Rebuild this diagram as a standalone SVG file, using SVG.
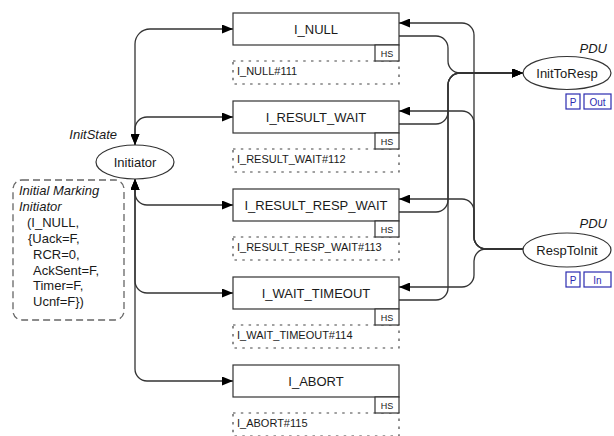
<svg xmlns="http://www.w3.org/2000/svg" width="614" height="436" viewBox="0 0 614 436">
  <defs>
    <marker id="arrow" viewBox="0 0 11 9" refX="11" refY="4.5" markerWidth="11" markerHeight="9" orient="auto-start-reverse" markerUnits="userSpaceOnUse">
      <path d="M0,0 L11,4.5 L0,9 z" fill="#000"/>
    </marker>
  </defs>
  <style>
    text { font-family: "Liberation Sans", Arial, sans-serif; fill: #1a1a1a; }
    .trans rect.body { fill: #fff; stroke: #333; stroke-width: 1.2; }
    .trans rect.hs { fill: #fff; stroke: #333; stroke-width: 1.2; }
    .trans .name { font-size: 13px; text-anchor: middle; }
    .trans .hst { font-size: 9px; text-anchor: middle; }
    .trans .sub { fill: none; stroke: #444; stroke-width: 1.2; stroke-dasharray: 2.5 5.3; }
    .trans .subt { font-size: 11px; }
    .place ellipse { fill: #fff; stroke: #333; stroke-width: 1.2; }
    .place .name { font-size: 13px; text-anchor: middle; }
    .italic { font-style: italic; font-size: 13px; }
    .port rect { fill: #fff; stroke: #2b2bb0; stroke-width: 1.2; }
    .port text { fill: #2b2bb0; font-size: 10px; text-anchor: middle; }
    .arc { fill: none; stroke: #333; stroke-width: 1.3; }
    .marking rect { fill: none; stroke: #666; stroke-width: 1.3; stroke-dasharray: 7 4; }
  </style>

  <!-- connectors -->
  <g id="arcs">
    <!-- Initiator <-> transitions -->
    <path class="arc" marker-start="url(#arrow)" marker-end="url(#arrow)" d="M135,145 L135,44 A15,15 0 0 1 150,29 L233,29"/>
    <path class="arc" marker-start="url(#arrow)" marker-end="url(#arrow)" d="M135,145 L135,129 A12,12 0 0 1 147,117 L233,117"/>
    <path class="arc" marker-start="url(#arrow)" marker-end="url(#arrow)" d="M135,179 L135,193 A12,12 0 0 0 147,205 L233,205"/>
    <path class="arc" marker-start="url(#arrow)" marker-end="url(#arrow)" d="M135,179 L135,281 A12,12 0 0 0 147,293 L233,293"/>
    <path class="arc" marker-start="url(#arrow)" marker-end="url(#arrow)" d="M135,179 L135,369 A12,12 0 0 0 147,381 L233,381"/>
    <!-- RespToInit -> transitions -->
    <path class="arc" marker-end="url(#arrow)" d="M523,249 L486,249 A12,12 0 0 1 474,237 L474,35 A12,12 0 0 0 462,23 L399,23"/>
    <path class="arc" marker-end="url(#arrow)" d="M523,249 L486,249 A12,12 0 0 1 474,237 L474,123 A12,12 0 0 0 462,111 L399,111"/>
    <path class="arc" marker-end="url(#arrow)" d="M523,249 L486,249 A12,12 0 0 1 474,237 L474,211 A12,12 0 0 0 462,199 L399,199"/>
    <path class="arc" marker-end="url(#arrow)" d="M523,249 L486,249 A12,12 0 0 0 474,261 L474,275 A12,12 0 0 1 462,287 L399,287"/>
    <!-- transitions -> InitToResp -->
    <path class="arc" marker-end="url(#arrow)" d="M399,36 L436,36 A12,12 0 0 1 448,48 L448,61 A12,12 0 0 0 460,73 L523,73"/>
    <path class="arc" marker-end="url(#arrow)" d="M399,124 L436,124 A12,12 0 0 0 448,112 L448,85 A12,12 0 0 1 460,73 L523,73"/>
    <path class="arc" marker-end="url(#arrow)" d="M399,212 L436,212 A12,12 0 0 0 448,200 L448,85 A12,12 0 0 1 460,73 L523,73"/>
    <path class="arc" marker-end="url(#arrow)" d="M399,300 L436,300 A12,12 0 0 0 448,288 L448,85 A12,12 0 0 1 460,73 L523,73"/>
  </g>

  <!-- places -->
  <g id="initiator" class="place">
    <ellipse cx="135" cy="162" rx="39" ry="17"/>
    <text class="name" x="135" y="167">Initiator</text>
    <text class="italic" x="117" y="139" text-anchor="end">InitState</text>
  </g>

  <g id="init-marking" class="marking">
    <rect x="13" y="180" width="111" height="140" rx="9" ry="9"/>
    <text class="italic" x="19" y="195">Initial Marking</text>
    <text class="italic" x="19" y="211">Initiator</text>
    <text font-size="13" x="27" y="227">(I_NULL,</text>
    <text font-size="13" x="28" y="243">{Uack=F,</text>
    <text font-size="13" x="33" y="259">RCR=0,</text>
    <text font-size="13" x="33" y="275">AckSent=F,</text>
    <text font-size="13" x="33" y="290">Timer=F,</text>
    <text font-size="13" x="33" y="306">Ucnf=F})</text>
  </g>

  <g id="inittoresp" class="place">
    <ellipse cx="567" cy="73" rx="44" ry="16.5"/>
    <text class="name" x="567" y="78">InitToResp</text>
    <text class="italic" x="607" y="53" text-anchor="end">PDU</text>
    <g class="port">
      <rect x="566" y="94" width="14" height="15"/>
      <text x="573" y="105.5">P</text>
      <rect x="584" y="94" width="27" height="15"/>
      <text x="597.5" y="105.5">Out</text>
    </g>
  </g>

  <g id="resptoinit" class="place">
    <ellipse cx="567" cy="250" rx="44" ry="17"/>
    <text class="name" x="567" y="255">RespToInit</text>
    <text class="italic" x="607" y="228" text-anchor="end">PDU</text>
    <g class="port">
      <rect x="566" y="272" width="14" height="15"/>
      <text x="573" y="283.5">P</text>
      <rect x="584" y="272" width="27" height="15"/>
      <text x="597.5" y="283.5">In</text>
    </g>
  </g>

  <!-- transitions -->
  <g id="t-null" class="trans">
    <path class="sub" d="M233,61 H399 V84 H233 Z"/>
    <rect class="body" x="233" y="13" width="166" height="32"/>
    <rect class="hs" x="375" y="45" width="24" height="16"/>
    <text class="name" x="316" y="34">I_NULL</text>
    <text class="hst" x="387" y="56.5">HS</text>
    <text class="subt" x="237" y="75">I_NULL#111</text>
  </g>

  <g id="t-result-wait" class="trans">
    <path class="sub" d="M233,149 H399 V172 H233 Z"/>
    <rect class="body" x="233" y="101" width="166" height="32"/>
    <rect class="hs" x="375" y="133" width="24" height="16"/>
    <text class="name" x="316" y="122">I_RESULT_WAIT</text>
    <text class="hst" x="387" y="144.5">HS</text>
    <text class="subt" x="237" y="163">I_RESULT_WAIT#112</text>
  </g>

  <g id="t-result-resp-wait" class="trans">
    <path class="sub" d="M233,237 H399 V260 H233 Z"/>
    <rect class="body" x="233" y="189" width="166" height="32"/>
    <rect class="hs" x="375" y="221" width="24" height="16"/>
    <text class="name" x="316" y="210">I_RESULT_RESP_WAIT</text>
    <text class="hst" x="387" y="232.5">HS</text>
    <text class="subt" x="237" y="251">I_RESULT_RESP_WAIT#113</text>
  </g>

  <g id="t-wait-timeout" class="trans">
    <path class="sub" d="M233,325 H399 V348 H233 Z"/>
    <rect class="body" x="233" y="277" width="166" height="32"/>
    <rect class="hs" x="375" y="309" width="24" height="16"/>
    <text class="name" x="316" y="298">I_WAIT_TIMEOUT</text>
    <text class="hst" x="387" y="320.5">HS</text>
    <text class="subt" x="237" y="339">I_WAIT_TIMEOUT#114</text>
  </g>

  <g id="t-abort" class="trans">
    <path class="sub" d="M233,413 H399 V436 H233 Z"/>
    <rect class="body" x="233" y="365" width="166" height="32"/>
    <rect class="hs" x="375" y="397" width="24" height="16"/>
    <text class="name" x="316" y="386">I_ABORT</text>
    <text class="hst" x="387" y="408.5">HS</text>
    <text class="subt" x="237" y="427">I_ABORT#115</text>
  </g>
</svg>
